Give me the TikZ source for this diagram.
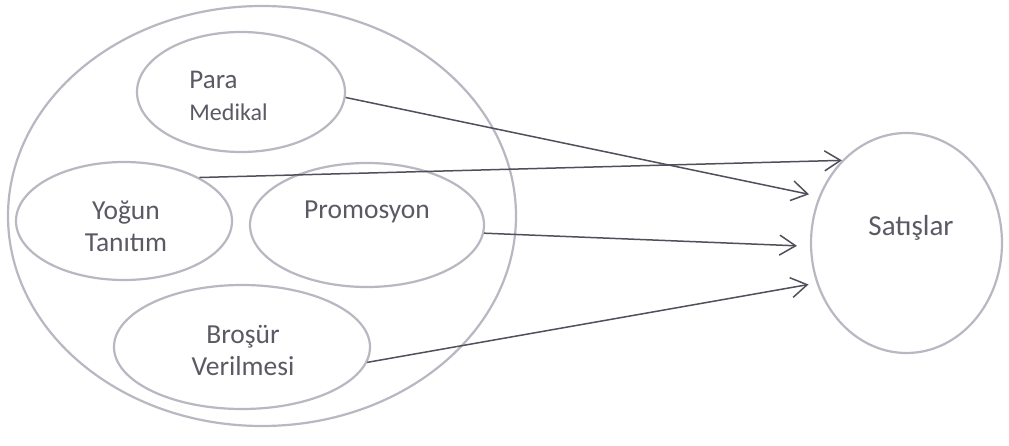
\documentclass[tikz,border=0pt]{standalone}
\usepackage{fontspec}
\setmainfont{Carlito}
\usetikzlibrary{shapes.geometric,arrows.meta}
\definecolor{ringcol}{HTML}{B8B8C2}
\definecolor{linecol}{HTML}{50505C}
\definecolor{txtcol}{HTML}{5A5A64}
\begin{document}
\begin{tikzpicture}[x=1pt,y=-1pt,
  ring/.style={draw=ringcol, line width=2.2pt, ellipse, inner sep=0pt},
  lbl/.style={text=txtcol, font=\fontsize{27.5}{32}\selectfont, align=center, inner sep=0pt},
  lblsmall/.style={text=txtcol, font=\fontsize{24}{32}\selectfont, align=left, inner sep=0pt},
  link/.style={draw=linecol, line width=1.5pt, -{Straight Barb[length=16pt,width=20pt]}}]
\useasboundingbox (0,0) rectangle (1009,446);
\fill[white] (0,0) rectangle (1009,446);
% outer group
\node[ring, minimum width=508pt, minimum height=420pt] (outer) at (262,216) {};
% inner ellipses
\node[ring, minimum width=208pt, minimum height=120pt] (pm) at (241,92) {};
\node[ring, minimum width=216pt, minimum height=118pt] (yt) at (124,221) {};
\node[ring, minimum width=234pt, minimum height=124pt] (pr) at (367,225) {};
\node[ring, minimum width=256pt, minimum height=124pt] (bv) at (242,347) {};
% target
\node[ring, minimum width=191pt, minimum height=220pt] (sat) at (906.5,243) {};
% labels
\node[lblsmall] (pmt) at (228.5,96) {{\fontsize{27}{32}\selectfont Para}\\Medikal};
\node[lbl] (ytt) at (126,226) {Yoğun\\Tanıtım};
\node[lbl] (prt) at (367,212) {Promosyon};
\node[lbl] (bvt) at (243,351) {Broşür\\Verilmesi};
\node[lbl, font=\fontsize{29}{32}\selectfont] (satt) at (911,228) {Satışlar};
% connectors
\draw[link, shorten >=10pt] (pm.-3) -- (sat.152);
\draw[link] (yt.30) -- (sat.128.7);
\draw[link, shorten >=13pt] (pr.-4) -- (sat.182.6);
\draw[link, shorten >=8pt] (bv.-7) -- (sat.204.6);
\end{tikzpicture}
\end{document}
